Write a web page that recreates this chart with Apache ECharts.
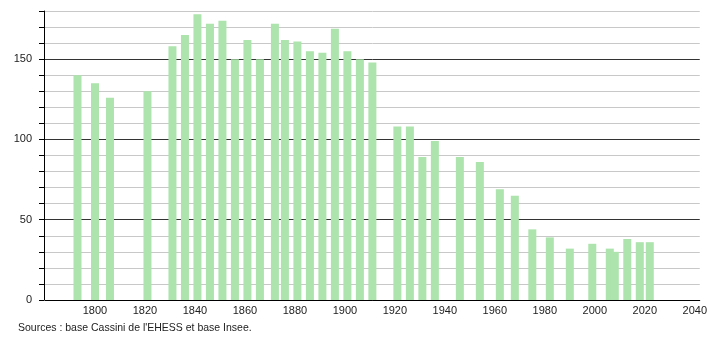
<!DOCTYPE html>
<html>
<head>
<meta charset="utf-8">
<script src="https://cdn.jsdelivr.net/npm/echarts@6/dist/echarts.min.js"></script>
<style>
html,body{margin:0;padding:0;background:#fff;}
#chart{width:710px;height:340px;}
</style>
</head>
<body>
<div id="chart"></div>
<script>
const years = [1793,1800,1806,1821,1831,1836,1841,1846,1851,1856,1861,1866,1872,1876,1881,1886,1891,1896,1901,1906,1911,1921,1926,1931,1936,1946,1954,1962,1968,1975,1982,1990,1999,2006,2008,2013,2018,2022];
const population = [140,135,126,130,158,165,178,172,174,150,162,150,172,162,161,155,154,169,155,150,148,108,108,89,99,89,86,69,65,44,39,32,35,32,30,38,36,36];
const yTickLabels = [0,50,100,150];
const sourceText = "Sources : base Cassini de l'EHESS et base Insee.";

const chart = echarts.init(document.getElementById('chart'), null, {renderer:'canvas'});
const font = 'Liberation Sans, Arial, sans-serif';
chart.setOption({
  animation:false,
  backgroundColor:'#fff',
  grid:{left:45,right:10,top:11,bottom:40,containLabel:false},
  xAxis:{
    type:'value',min:1780,max:2042,interval:20,
    axisLine:{show:true,lineStyle:{color:'#000',width:1}},
    axisTick:{show:false},
    splitLine:{show:false},
    axisLabel:{showMinLabel:false,showMaxLabel:false,color:'#222',fontFamily:font,fontSize:11,margin:5,
      formatter:v=>String(v)}
  },
  yAxis:{
    type:'value',min:0,max:180,interval:10,offset:1,
    axisLine:{show:true,lineStyle:{color:'#000',width:1}},
    axisTick:{show:true,length:5,lineStyle:{color:'#000'}},
    splitLine:{show:true,lineStyle:{color:['#333','#c8c8c8','#c8c8c8','#c8c8c8','#c8c8c8'],width:1}},
    axisLabel:{color:'#222',fontFamily:font,fontSize:11,margin:12,
      formatter:v=>yTickLabels.indexOf(v)>=0?String(v):''}
  },
  series:[{
    type:'bar',
    barWidth:8,
    itemStyle:{color:'#ade3ad'},
    data:years.map((y,i)=>[y,population[i]])
  }],
  graphic:[{
    type:'text',left:18,top:323,
    style:{text:sourceText,fill:'#222',font:'10.5px '+font}
  }]
});
</script>
</body>
</html>
